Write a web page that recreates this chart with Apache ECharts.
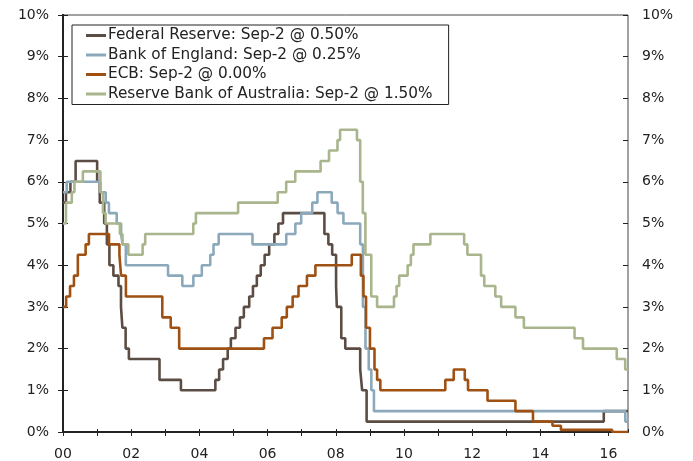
<!DOCTYPE html>
<html>
<head>
<meta charset="utf-8">
<script src="https://cdn.jsdelivr.net/npm/echarts@6/dist/echarts.min.js"></script>
<style>html,body{margin:0;padding:0;background:#fff}#c{width:693px;height:461px}</style>
</head>
<body>
<div id="c"></div>
<script>
// ---- data (policy rates, % ; change dates) ----
const seriesNames = [
  'Federal Reserve: Sep-2 @ 0.50%',
  'Bank of England: Sep-2 @ 0.25%',
  'ECB: Sep-2 @ 0.00%',
  'Reserve Bank of Australia: Sep-2 @ 1.50%'
];
const endDate = '2016-09-02';

const fedDates = ['2000-01-01','2000-02-02','2000-03-21','2000-05-16','2001-01-03','2001-01-31','2001-03-20','2001-04-18','2001-05-15','2001-06-27','2001-08-21','2001-09-17','2001-10-02','2001-11-06','2001-12-11','2002-11-06','2003-06-25','2004-06-30','2004-08-10','2004-09-21','2004-11-10','2004-12-14','2005-02-02','2005-03-22','2005-05-03','2005-06-30','2005-08-09','2005-09-20','2005-11-01','2005-12-13','2006-01-31','2006-03-28','2006-05-10','2006-06-29','2007-09-18','2007-10-31','2007-12-11','2008-01-22','2008-01-30','2008-03-18','2008-04-30','2008-10-08','2008-10-29','2008-12-16','2015-12-16'];
const fedRates = [5.50,5.75,6.00,6.50,6.00,5.50,5.00,4.50,4.00,3.75,3.50,3.00,2.50,2.00,1.75,1.25,1.00,1.25,1.50,1.75,2.00,2.25,2.50,2.75,3.00,3.25,3.50,3.75,4.00,4.25,4.50,4.75,5.00,5.25,4.75,4.50,4.25,3.50,3.00,2.25,2.00,1.50,1.00,0.25,0.50];

const boeDates = ['2000-01-01','2000-02-10','2001-02-08','2001-04-05','2001-05-10','2001-08-02','2001-09-18','2001-10-04','2001-11-08','2003-02-06','2003-07-10','2003-11-06','2004-02-05','2004-05-06','2004-06-10','2004-08-05','2005-08-04','2006-08-03','2006-11-09','2007-01-11','2007-05-10','2007-07-05','2007-12-06','2008-02-07','2008-04-10','2008-10-08','2008-11-06','2008-12-04','2009-01-08','2009-02-05','2009-03-05','2016-08-04'];
const boeRates = [5.75,6.00,5.75,5.50,5.25,5.00,4.75,4.50,4.00,3.75,3.50,3.75,4.00,4.25,4.50,4.75,4.50,4.75,5.00,5.25,5.50,5.75,5.50,5.25,5.00,4.50,3.00,2.00,1.50,1.00,0.50,0.25];

const ecbDates = ['2000-01-01','2000-02-04','2000-03-17','2000-04-28','2000-06-09','2000-09-01','2000-10-06','2001-05-11','2001-08-31','2001-09-18','2001-11-09','2002-12-06','2003-03-07','2003-06-06','2005-12-06','2006-03-08','2006-06-15','2006-08-09','2006-10-11','2006-12-13','2007-03-14','2007-06-13','2008-07-09','2008-10-15','2008-11-12','2008-12-10','2009-01-21','2009-03-11','2009-04-08','2009-05-13','2011-04-13','2011-07-13','2011-11-09','2011-12-14','2012-07-11','2013-05-08','2013-11-13','2014-06-11','2014-09-10','2016-03-16'];
const ecbRates = [3.00,3.25,3.50,3.75,4.25,4.50,4.75,4.50,4.25,3.75,3.25,2.75,2.50,2.00,2.25,2.50,2.75,3.00,3.25,3.50,3.75,4.00,4.25,3.75,3.25,2.50,2.00,1.50,1.25,1.00,1.25,1.50,1.25,1.00,0.75,0.50,0.25,0.15,0.05,0.00];

const rbaDates = ['2000-01-01','2000-02-02','2000-04-05','2000-05-03','2000-08-02','2001-02-07','2001-03-07','2001-04-04','2001-09-05','2001-10-03','2001-12-05','2002-05-08','2002-06-05','2003-11-05','2003-12-03','2005-03-02','2006-05-03','2006-08-02','2006-11-08','2007-08-08','2007-11-07','2008-02-06','2008-03-05','2008-09-03','2008-10-08','2008-11-05','2008-12-03','2009-02-04','2009-04-08','2009-10-07','2009-11-04','2009-12-02','2010-03-03','2010-04-07','2010-05-05','2010-11-03','2011-11-02','2011-12-07','2012-05-02','2012-06-06','2012-10-03','2012-12-05','2013-05-08','2013-08-07','2015-02-04','2015-05-06','2016-05-04','2016-08-03'];
const rbaRates = [5.00,5.50,5.75,6.00,6.25,5.75,5.25,5.00,4.75,4.50,4.25,4.50,4.75,5.00,5.25,5.50,5.75,6.00,6.25,6.50,6.75,7.00,7.25,7.00,6.00,5.25,4.25,3.25,3.00,3.25,3.50,3.75,4.00,4.25,4.50,4.75,4.50,4.25,3.75,3.50,3.25,3.00,2.75,2.50,2.25,2.00,1.75,1.50];

const yTicks = [0,1,2,3,4,5,6,7,8,9,10];
const colors = ['#5c4d44','#8ca9bc','#9e5112','#a9b58c'];

// ---- helpers ----
const T0 = Date.UTC(2000,0,1);
function yr(s){ const p=s.split('-').map(Number); return (Date.UTC(p[0],p[1]-1,p[2]) - T0) / (365.25*86400000); }
function build(dates, rates){
  const d = dates.map((s,i)=>[yr(s), rates[i]]);
  d.push([yr(endDate), rates[rates.length-1]]);
  return d;
}
const XMAX = yr(endDate);
const XSTEP = 1.006;
const FONT = 'DejaVu Sans, Verdana, sans-serif';

const all = [[fedDates,fedRates],[boeDates,boeRates],[ecbDates,ecbRates],[rbaDates,rbaRates]];
const series = all.map((a,i)=>({
  name: seriesNames[i], type:'line', step:'end', showSymbol:false, symbol:'none',
  data: build(a[0],a[1]), xAxisIndex:0, yAxisIndex:0,
  lineStyle:{color:colors[i], width:2.6}, itemStyle:{color:colors[i]}, animation:false, z:2+i
}));

function xlab(v){
  const k = Math.round(v/XSTEP);
  if (Math.abs(v - k*XSTEP) > 0.01 || k % 2) return '';
  return (k<10?'0':'') + k;
}
const yAxisBase = {type:'value', min:0, max:10, interval:1, splitLine:{show:false},
  axisLine:{show:true, lineStyle:{color:'#222', width:2}},
  axisTick:{show:true, length:5, lineStyle:{color:'#222', width:1}}};

const chart = echarts.init(document.getElementById('c'), null, {renderer:'canvas'});
chart.setOption({
  animation:false,
  backgroundColor:'#fff',
  grid:{left:63, right:65, top:15, bottom:29, show:true, borderColor:'#444', borderWidth:1, backgroundColor:'transparent'},
  legend:{
    data: seriesNames, orient:'vertical', left:72, top:25,
    icon:'rect', itemWidth:20, itemHeight:3, itemGap:4.5,
    borderColor:'#222', borderWidth:1, padding:[3,16,3,14],
    textStyle:{fontFamily:FONT, fontSize:15.3, color:'#222', padding:[0,0,0,-3]},
    selectedMode:false, backgroundColor:'#fff'
  },
  xAxis:[
    {type:'value', min:0, max:XMAX, interval:XSTEP, position:'bottom',
     axisLine:{show:true, lineStyle:{color:'#222', width:2}},
     axisTick:{show:true, length:4, lineStyle:{color:'#222', width:1}},
     axisLabel:{formatter:xlab, fontFamily:FONT, fontSize:14, color:'#222', margin:15, showMaxLabel:false},
     splitLine:{show:false}},
    {type:'value', min:0, max:XMAX, interval:XSTEP, position:'bottom',
     axisLine:{show:false}, axisTick:{show:true, inside:true, length:3, lineStyle:{color:'#222', width:1}},
     axisLabel:{show:false}, splitLine:{show:false}}
  ],
  yAxis:[
    Object.assign({}, yAxisBase, {position:'left',
      axisLabel:{formatter:'{value}%', fontFamily:FONT, fontSize:14, color:'#222', margin:14}}),
    Object.assign({}, yAxisBase, {position:'right',
      axisLabel:{formatter:'{value}%', fontFamily:FONT, fontSize:14, color:'#222', margin:14}}),
    Object.assign({}, yAxisBase, {position:'left', axisLine:{show:false},
      axisTick:{show:true, inside:true, length:5, lineStyle:{color:'#222', width:1}}, axisLabel:{show:false}}),
    Object.assign({}, yAxisBase, {position:'right', axisLine:{show:false},
      axisTick:{show:true, inside:true, length:5, lineStyle:{color:'#222', width:1}}, axisLabel:{show:false}})
  ],
  series: series
});
</script>
</body>
</html>
